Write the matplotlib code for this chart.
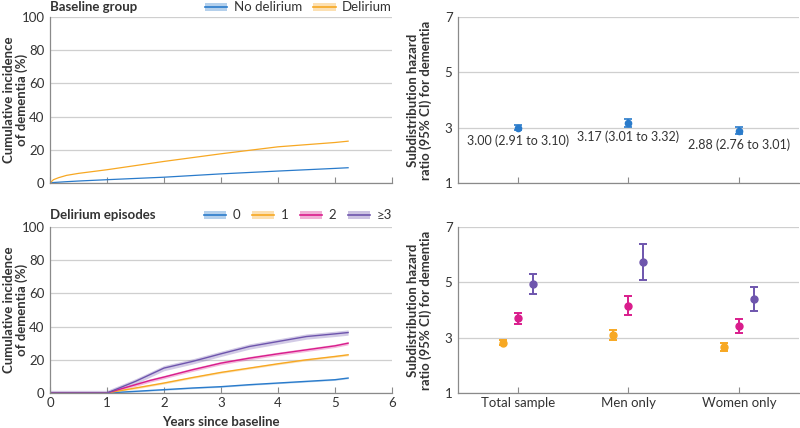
import numpy as np
import matplotlib.pyplot as plt
from matplotlib.lines import Line2D
from matplotlib.patches import Patch

plt.rcParams['font.family'] = ['Lato', 'DejaVu Sans']

# top left: baseline group
years_base = [0, 0.06, 0.15, 0.29, 0.5, 1, 2, 3, 4, 5, 5.23]
no_delirium = [0, 0.3, 0.5, 0.8, 1.2, 2.0, 3.5, 5.5, 7.2, 8.8, 9.2]
delirium = [0, 2.0, 3.2, 4.6, 5.8, 8.0, 13.0, 17.6, 21.8, 24.4, 25.2]

# bottom left: delirium episodes
years_ep = [0, 1, 1.5, 1.75, 2, 2.5, 3, 3.5, 4, 4.5, 5, 5.23]
ep0 = [0, 0, 1.0, 1.5, 2.0, 3.0, 3.8, 5.0, 6.0, 7.0, 8.0, 9.0]
ep1 = [0, 0, 3.0, 4.5, 6.0, 9.3, 12.4, 15.0, 17.6, 20.0, 22.0, 23.0]
ep2 = [0, 0, 5.0, 7.5, 9.6, 14.0, 18.0, 21.0, 23.6, 26.0, 28.4, 30.0]
ep3 = [0, 0, 7.0, 11.0, 15.0, 19.0, 23.6, 28.0, 31.0, 34.0, 35.6, 36.4]
ep_ci = [0.4, 0.6, 1.0, 1.6]

# right: hazard ratios
groups = ['Total sample', 'Men only', 'Women only']
hr_base = [3.00, 3.17, 2.88]
hr_base_lo = [2.91, 3.01, 2.76]
hr_base_hi = [3.10, 3.32, 3.01]

hr1 = [2.82, 3.10, 2.66]
hr1_lo = [2.72, 2.90, 2.50]
hr1_hi = [2.92, 3.27, 2.80]
hr2 = [3.72, 4.16, 3.42]
hr2_lo = [3.50, 3.80, 3.18]
hr2_hi = [3.90, 4.52, 3.68]
hr3 = [4.95, 5.74, 4.40]
hr3_lo = [4.58, 5.10, 3.95]
hr3_hi = [5.31, 6.39, 4.84]

blue = '#2a7bcb'
orange = '#f7a823'
pink = '#d91d8c'
purple = '#6e55ad'
grid_c = '#cfcfcf'
spine_c = '#8a8a8a'
txt = '#333333'
fs = 9.5

fig = plt.figure(figsize=(8, 4.28), dpi=100)
ax1 = fig.add_axes([0.0625, 0.5724, 0.4275, 0.388])
ax2 = fig.add_axes([0.0625, 0.0818, 0.4275, 0.388])
ax3 = fig.add_axes([0.5725, 0.5724, 0.426, 0.388])
ax4 = fig.add_axes([0.5725, 0.0818, 0.426, 0.388])


def style(ax):
    for s in ['top', 'right']:
        ax.spines[s].set_visible(False)
    for s in ['left', 'bottom']:
        ax.spines[s].set_color(spine_c)
        ax.spines[s].set_linewidth(0.9)
    ax.tick_params(axis='x', direction='in', length=4, color=spine_c,
                   labelsize=fs, labelcolor=txt, pad=3)
    ax.tick_params(axis='y', length=0, labelsize=fs, labelcolor=txt, pad=4)
    ax.grid(axis='y', color=grid_c, linewidth=0.9)
    ax.set_axisbelow(True)


for ax in (ax1, ax2):
    style(ax)
    ax.set_xlim(0, 6)
    ax.set_ylim(0, 100)
    ax.set_xticks(range(7))
    ax.set_yticks(range(0, 101, 20))
    ax.set_ylabel('Cumulative incidence\nof dementia (%)', fontsize=fs,
                  fontweight='bold', color=txt, linespacing=1.05)
    ax.yaxis.set_label_coords(-0.064, 0.5)

ax1.tick_params(axis='x', labelbottom=False)

ax1.plot(years_base, no_delirium, color=blue, lw=0.9)
ax1.plot(years_base, delirium, color=orange, lw=0.9)

ax2.set_xlabel('Years since baseline', fontsize=fs, fontweight='bold',
               color=txt, labelpad=5)
ep_series = [ep0, ep1, ep2, ep3]
ep_cols = [blue, orange, pink, purple]
for ys, c, w in zip(ep_series, ep_cols, ep_ci):
    ys = np.array(ys)
    ax2.fill_between(years_ep, np.maximum(ys - w, 0), ys + w, color=c,
                     alpha=0.3, lw=0)
    ax2.plot(years_ep, ys, color=c, lw=1.0)

fig.text(0.0625, 0.983, 'Baseline group', fontsize=fs,
         fontweight='bold', color=txt, va='center', ha='left')
fig.text(0.0625, 0.497, 'Delirium episodes', fontsize=fs,
         fontweight='bold', color=txt, va='center', ha='left')


def handle(c):
    return (Patch(facecolor=c, alpha=0.35, edgecolor='none'),
            Line2D([], [], color=c, lw=1.2))


leg_kw = dict(frameon=False, fontsize=fs, handlelength=1.7,
              handleheight=0.55, handletextpad=0.5, borderaxespad=0,
              borderpad=0, columnspacing=0.85)
leg1 = fig.legend([handle(blue), handle(orange)], ['No delirium', 'Delirium'],
                  loc='center right', bbox_to_anchor=(0.49, 0.983), ncol=2,
                  **leg_kw)
leg2 = fig.legend([handle(c) for c in ep_cols], ['0', '1', '2', '≥3'],
                  loc='center right', bbox_to_anchor=(0.49, 0.497), ncol=4,
                  **leg_kw)
for leg in (leg1, leg2):
    for t in leg.get_texts():
        t.set_color(txt)

x = np.arange(len(groups))
for ax in (ax3, ax4):
    style(ax)
    ax.set_xlim(-0.54, 2.54)
    ax.set_ylim(1, 7)
    ax.set_yticks([1, 3, 5, 7])
    ax.set_xticks(x)
    ax.set_ylabel('Subdistribution hazard\nratio (95% CI) for dementia',
                  fontsize=fs, fontweight='bold', color=txt, linespacing=1.05)
    ax.yaxis.set_label_coords(-0.076, 0.5)

ax3.tick_params(axis='x', labelbottom=False)
ax4.set_xticklabels(groups)

ax3.errorbar(x, hr_base,
             yerr=[np.array(hr_base) - np.array(hr_base_lo),
                   np.array(hr_base_hi) - np.array(hr_base)],
             fmt='o', color=blue, ms=4.5, elinewidth=1.2, capsize=3,
             capthick=1.2)
label_y = [2.54, 2.66, 2.38]
for xi, v, lo, hi, ly in zip(x, hr_base, hr_base_lo, hr_base_hi, label_y):
    ax3.text(xi, ly, f'{v:.2f} ({lo:.2f} to {hi:.2f})', ha='center',
             va='center', fontsize=9, color=txt)

offsets = [-0.135, 0, 0.135]
for off, v, lo, hi, c in zip(offsets, [hr1, hr2, hr3], [hr1_lo, hr2_lo, hr3_lo],
                             [hr1_hi, hr2_hi, hr3_hi], [orange, pink, purple]):
    v = np.array(v)
    ax4.errorbar(x + off, v, yerr=[v - np.array(lo), np.array(hi) - v],
                 fmt='o', color=c, ms=5, elinewidth=1.4, capsize=3,
                 capthick=1.4)

fig.savefig('out.png', dpi=100)
